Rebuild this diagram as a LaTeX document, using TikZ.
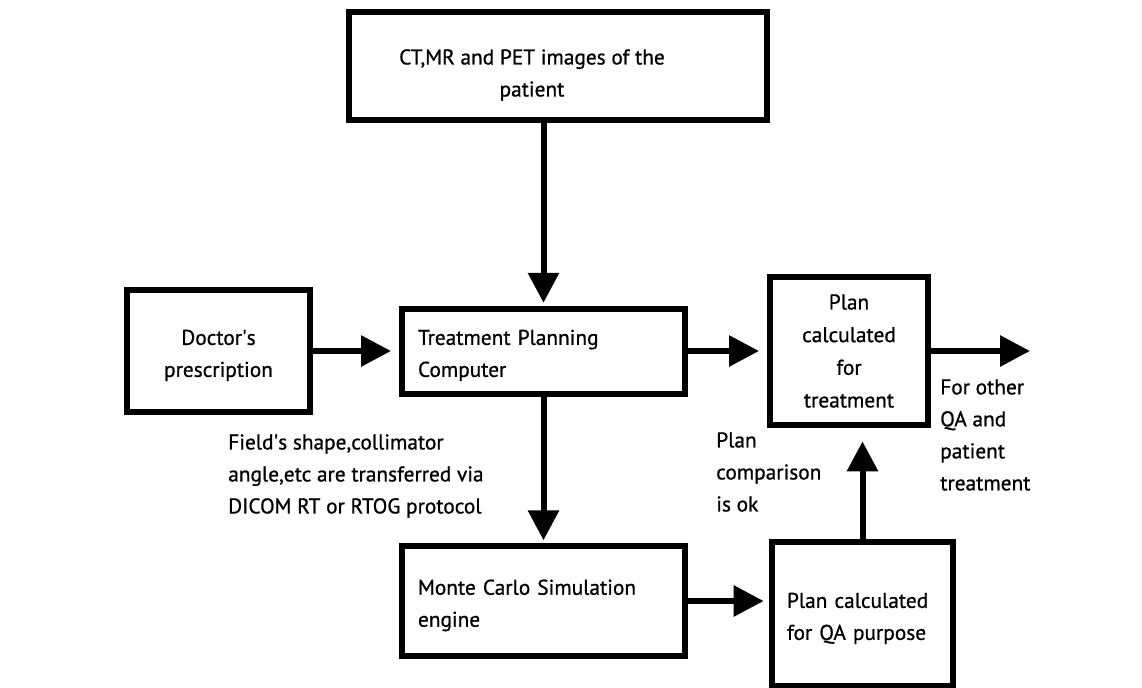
\documentclass[tikz,border=0pt]{standalone}
\usepackage{fontspec}
\setmainfont{PT Sans}[BoldFont=PT Sans, BoldFeatures={FakeBold=0.8}]
\usetikzlibrary{arrows.meta}
\hyphenpenalty=10000
\newcommand{\toprule}{\rule{0pt}{18pt}}

\tikzset{
  blk/.style={draw, line width=4.5pt, inner sep=0pt, font=\fontsize{16}{24}\selectfont\bfseries},
  note/.style={inner sep=0pt, align=left, font=\fontsize{16}{24}\selectfont\bfseries},
  arr/.style={line width=4.5pt, -{Triangle[length=22.5pt,width=22.5pt]}},
}

\begin{document}
\begin{tikzpicture}[x=0.75pt,y=-0.75pt]
  \useasboundingbox (0,0) rectangle (1142,688);
  % boxes
  \node[blk, minimum width=313.5pt, minimum height=81pt] (imgs) at (558,66) {};
  \node[note, align=center] (imgstxt) at (532,75) {CT,MR and PET images of the\\patient};
  \node[blk, minimum width=137.25pt, minimum height=91.5pt, align=center] (doc) at (218.5,351) {\toprule Doctor\textquotesingle s\\prescription};
  \node[blk, minimum width=212.25pt, minimum height=63.75pt, text width=188.25pt, align=left] (tpc) at (543.5,351) {\toprule Treatment Planning\\Computer};
  \node[blk, minimum width=118.5pt, minimum height=111pt, align=center, font=\fontsize{16}{24.5}\selectfont\bfseries] (plan) at (849,351) {Plan\\calculated\\for\\treatment};
  \node[blk, minimum width=212.25pt, minimum height=82.5pt, text width=188.25pt, align=left] (mc) at (543.5,601) {\toprule Monte Carlo Simulation\\engine};
  \node[blk, minimum width=135.75pt, minimum height=108pt, text width=113.25pt, align=left] (qa) at (862.5,614) {\toprule Plan calculated\\for QA purpose};
  \coordinate (out) at (1030,351);
  % labels
  \node[note, anchor=west] (field) at (228,476) {Field\textquotesingle s shape,collimator\\angle,etc are transferred via\\DICOM RT or RTOG protocol};
  \node[note, anchor=west] (okay) at (716,472) {Plan\\comparison\\is ok};
  \node[note, anchor=west] (other) at (940,435) {For other\\QA and\\patient\\treatment};
  % arrows
  \draw[arr, shorten >=2pt] (imgs.south -| tpc.north) -- (tpc.north);
  \draw[arr, shorten >=6pt] (doc) -- (tpc);
  \draw[arr, shorten >=6pt] (tpc) -- (plan);
  \draw[arr] (plan.east) -- (out);
  \draw[arr, shorten >=2pt] (tpc.south) -- (mc.north);
  \draw[arr, shorten >=4pt] (mc.east) -- (mc.east -| qa.west);
  \draw[arr, shorten >=10pt] (qa.north) -- (qa.north |- plan.south);
\end{tikzpicture}
\end{document}
